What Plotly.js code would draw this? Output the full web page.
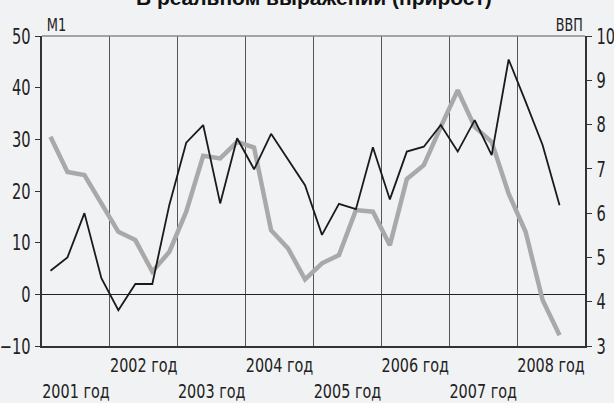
<!DOCTYPE html>
<html>
<head>
<meta charset="utf-8">
<script src="https://cdn.plot.ly/plotly-3.0.1.min.js"></script>
<style>
  html, body { margin: 0; padding: 0; background: #f1f2f4; }
  #chart { width: 614px; height: 403px; }
</style>
</head>
<body>
<div id="chart"></div>
<script>
// Quarterly data, 2001 Q1 – 2008 Q3
var quarterStart = 2001;
var m1Growth = [30.5, 23.7, 23.1, 17.7, 12.1, 10.5, 4.4, 8.2,
                16.0, 26.8, 26.3, 29.5, 28.4, 12.4, 8.9, 2.9,
                6.0, 7.6, 16.3, 16.0, 9.5, 22.3, 25.0, 32.4,
                39.5, 32.4, 29.5, 19.5, 12.1, -1.1, -7.9];
var gdpGrowth = [4.70, 5.00, 6.00, 4.53, 3.81, 4.40, 4.40, 6.18,
                 7.59, 7.99, 6.22, 7.69, 6.99, 7.79, 7.21, 6.63,
                 5.51, 6.21, 6.09, 7.49, 6.31, 7.39, 7.50, 7.99,
                 7.39, 8.10, 7.31, 9.47, 8.52, 7.54, 6.18];
var years = [2001, 2002, 2003, 2004, 2005, 2006, 2007, 2008];
var yearLabels = ["2001 год", "2002 год", "2003 год", "2004 год",
                  "2005 год", "2006 год", "2007 год", "2008 год"];

var xq = m1Growth.map(function (_, i) { return quarterStart + (i + 0.5) / 4; });
var tickVals = years.map(function (y) { return y + 0.5; });
var tickText = yearLabels.map(function (t, i) { return (years[i] % 2 === 1) ? " <br>" + t : t; });

var font = "'Liberation Sans Narrow', 'DejaVu Sans Condensed', 'Roboto Condensed', 'Liberation Sans', sans-serif";

var traces = [
  { x: xq, y: m1Growth, type: "scatter", mode: "lines", yaxis: "y",
    line: { color: "#a9a9a9", width: 4.5 }, hoverinfo: "skip" },
  { x: xq, y: gdpGrowth, type: "scatter", mode: "lines", yaxis: "y2",
    line: { color: "#1a1a1a", width: 1.8 }, hoverinfo: "skip" }
];

var layout = {
  width: 614, height: 403,
  paper_bgcolor: "#f1f2f4", plot_bgcolor: "#f1f2f4",
  margin: { l: 42, r: 29, t: 36, b: 57 },
  showlegend: false,
  font: { family: font, size: 20, color: "#222" },
  xaxis: {
    range: [2001, 2009], tickmode: "array", tickvals: tickVals, ticktext: tickText,
    tickangle: 0, ticks: "", showgrid: false, zeroline: false,
    showline: true, linecolor: "#333", linewidth: 2,
    tickfont: { family: font, size: 20, color: "#222" },
    minor: { tick0: 2001, dtick: 1, showgrid: true, gridcolor: "#555", gridwidth: 1, ticks: "" }
  },
  yaxis: {
    range: [-10, 50], dtick: 10, ticks: "outside", ticklen: 5, tickwidth: 1, tickcolor: "#333",
    showgrid: false, zeroline: true, zerolinecolor: "#222", zerolinewidth: 1,
    showline: true, linecolor: "#333", linewidth: 2,
    tickfont: { family: font, size: 22, color: "#222" }
  },
  yaxis2: {
    range: [3, 10], dtick: 1, overlaying: "y", side: "right",
    ticks: "outside", ticklen: 5, tickwidth: 1, tickcolor: "#333",
    showgrid: false, zeroline: false,
    showline: true, linecolor: "#333", linewidth: 2,
    tickfont: { family: font, size: 22, color: "#222" }
  },
  shapes: [
    { type: "line", xref: "paper", yref: "paper", x0: 0, x1: 1, y0: 1, y1: 1,
      line: { color: "#888", width: 1.5 } }
  ],
  annotations: [
    { text: "<b>В реальном выражении (прирост)</b>", xref: "paper", yref: "paper",
      x: 0.5, y: 1.125, xanchor: "center", yanchor: "middle", showarrow: false,
      font: { family: "'Liberation Sans', Arial, sans-serif", size: 21, color: "#111" } },
    { text: "M1", xref: "paper", yref: "paper", x: 0, y: 1.036, xanchor: "left", yanchor: "middle",
      xshift: 1, showarrow: false, font: { family: font, size: 17, color: "#222" } },
    { text: "ВВП", xref: "paper", yref: "paper", x: 1, y: 1.036, xanchor: "right", yanchor: "middle",
      xshift: 3, showarrow: false, font: { family: font, size: 17, color: "#222" } }
  ]
};

// horizontally condense the text around its own anchor point (condensed typeface look)
function squeeze(selector, s) {
  document.querySelectorAll(selector).forEach(function (t) {
    var x = parseFloat(t.getAttribute("x")) || 0;
    var tr = t.getAttribute("transform") || "";
    t.setAttribute("transform", tr + " translate(" + x + ",0) scale(" + s + ",1) translate(" + (-x) + ",0)");
  });
}

Plotly.newPlot("chart", traces, layout, { staticPlot: true, displayModeBar: false }).then(function () {
  squeeze(".xtick text", 0.8);
  squeeze(".ytick text", 0.74);
  squeeze(".y2tick text", 0.74);
  squeeze('.annotation[data-index="1"] text', 0.85);
  squeeze('.annotation[data-index="2"] text', 0.83);
});
</script>
</body>
</html>
